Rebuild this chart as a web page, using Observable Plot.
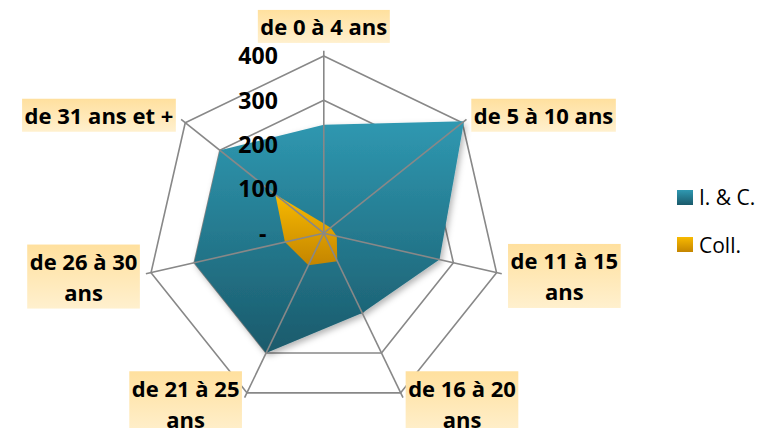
<!DOCTYPE html>
<html><head><meta charset="utf-8">
<script src="https://cdn.jsdelivr.net/npm/d3@7"></script>
<script src="https://cdn.jsdelivr.net/npm/@observablehq/plot@0.6"></script>
<style>
body{margin:0;background:#fff;}
#wrap{position:relative;width:762px;height:428px;font-family:"Open Sans",Lato,sans-serif;overflow:hidden;}
#wrap svg{display:block;}
#legend{position:absolute;left:677px;top:185px;font-family:"Open Sans",sans-serif;font-size:21px;color:#000;white-space:nowrap;}
#legend .it{display:flex;align-items:center;height:24px;margin-bottom:23.5px;}
#legend .sw{display:inline-block;width:16px;height:15px;margin-right:6px;flex:none;}
</style></head><body>
<div id="wrap"></div>
<script>
// ---- data ----
const categories = ["de 0 à 4 ans","de 5 à 10 ans","de 11 à 15\nans","de 16 à 20\nans","de 21 à 25\nans","de 26 à 30\nans","de 31 ans et +"];
const seriesNames = ["I. & C.","Coll."];
const icValues = [245,405,268,200,300,300,300];
const collValues = [22,20,30,70,80,90,140];
const tickValues = [0,100,200,300,400];
const tickLabels = ["-\u2002","100","200","300","400"];

// ---- layout ----
const W = 762, H = 428, cx = 323.3, cy = 232.7, k = 0.443;
const maxV = 400, spokeV = 412;
const labelOffsets = [[0,-30.5],[81.2,-8.4],[67.8,2.4],[61.3,9.5],[-61.3,9.5],[-67.5,3],[-86.3,-8.4]];
const n = categories.length;
const ang = i => i * 2 * Math.PI / n;
const px = (v,i) => v * Math.sin(ang(i));
const py = (v,i) => v * Math.cos(ang(i));

const ringPts = [];
tickValues.filter(t => t > 0).forEach(t => categories.forEach((c,i) => ringPts.push({t, x: px(t,i), y: py(t,i)})));
const icPts = icValues.map((v,i) => ({x: px(v,i), y: py(v,i)}));
const collPts = collValues.map((v,i) => ({x: px(v,i), y: py(v,i)}));

const grid = "#888888";
const chart = Plot.plot({
  width: W, height: H,
  margin: 0,
  style: {fontFamily: "'Open Sans', Lato, sans-serif"},
  x: {domain: [-cx/k, (W-cx)/k], range: [0, W], axis: null},
  y: {domain: [-(H-cy)/k, cy/k], range: [H, 0], axis: null},
  marks: [
    Plot.line(ringPts, {x: "x", y: "y", z: "t", curve: "linear-closed", stroke: grid, strokeWidth: 1.6}),
    Plot.line(icPts, {x: "x", y: "y", curve: "linear-closed", fill: "url(#gTeal)", stroke: "none", className: "ic-area"}),
    Plot.line(collPts, {x: "x", y: "y", curve: "linear-closed", fill: "url(#gOrange)", stroke: "none"}),
    Plot.link(categories, {x1: 0, y1: 0, x2: (d,i) => px(spokeV,i), y2: (d,i) => py(spokeV,i), stroke: grid, strokeWidth: 1.6}),
    Plot.text(tickValues, {x: 0, y: d => d, text: (d,i) => tickLabels[i], textAnchor: "end", dx: -46, dy: 1, fontSize: 23, fontWeight: "bold", fill: "#000"}),
    Plot.text(categories, {
      x: (d,i) => px(maxV,i) + labelOffsets[i][0]/k,
      y: (d,i) => py(maxV,i) - labelOffsets[i][1]/k,
      text: d => d, textAnchor: "middle", lineAnchor: "middle", lineHeight: 1.41,
      fontSize: 22, fontWeight: "bold", fill: "#000", className: "cat-labels"
    })
  ]
});

document.getElementById("wrap").appendChild(chart);
const svg = d3.select(chart);
const defs = svg.insert("defs", ":first-child");
function grad(id, c1, c2) {
  const g = defs.append("linearGradient").attr("id", id).attr("x1", 0).attr("y1", 0).attr("x2", 0).attr("y2", 1);
  g.append("stop").attr("offset", "0%").attr("stop-color", c1);
  g.append("stop").attr("offset", "100%").attr("stop-color", c2);
}
grad("gTeal", "#2F98B1", "#1A5A6B");
grad("gOrange", "#F8BA00", "#C48500");
grad("gLab", "#FFE09E", "#FFF0CE");
const f = defs.append("filter").attr("id", "shadow").attr("x", "-10%").attr("y", "-10%").attr("width", "130%").attr("height", "130%");
f.append("feDropShadow").attr("dx", 2).attr("dy", 3).attr("stdDeviation", 3).attr("flood-color", "#000").attr("flood-opacity", 0.3);
svg.select(".ic-area").attr("filter", "url(#shadow)");

// label backgrounds
svg.selectAll(".cat-labels text").each(function() {
  const b = this.getBBox();
  const tr = this.getAttribute("transform");
  const r = d3.select(this.parentNode).insert("rect", () => this)
    .attr("x", b.x - 2.5).attr("y", b.y - 1.5)
    .attr("width", b.width + 5).attr("height", b.height + 3)
    .attr("fill", "url(#gLab)");
  if (tr) r.attr("transform", tr);
});

// legend
const legendColors = [["#2F98B1","#1A5A6B"],["#F8BA00","#C48500"]];
const leg = d3.select("#wrap").append("div").attr("id", "legend");
seriesNames.forEach((s,i) => {
  const it = leg.append("div").attr("class", "it");
  it.append("span").attr("class", "sw").style("background", `linear-gradient(${legendColors[i][0]}, ${legendColors[i][1]})`);
  it.append("span").text(s);
});
</script>
</body></html>
